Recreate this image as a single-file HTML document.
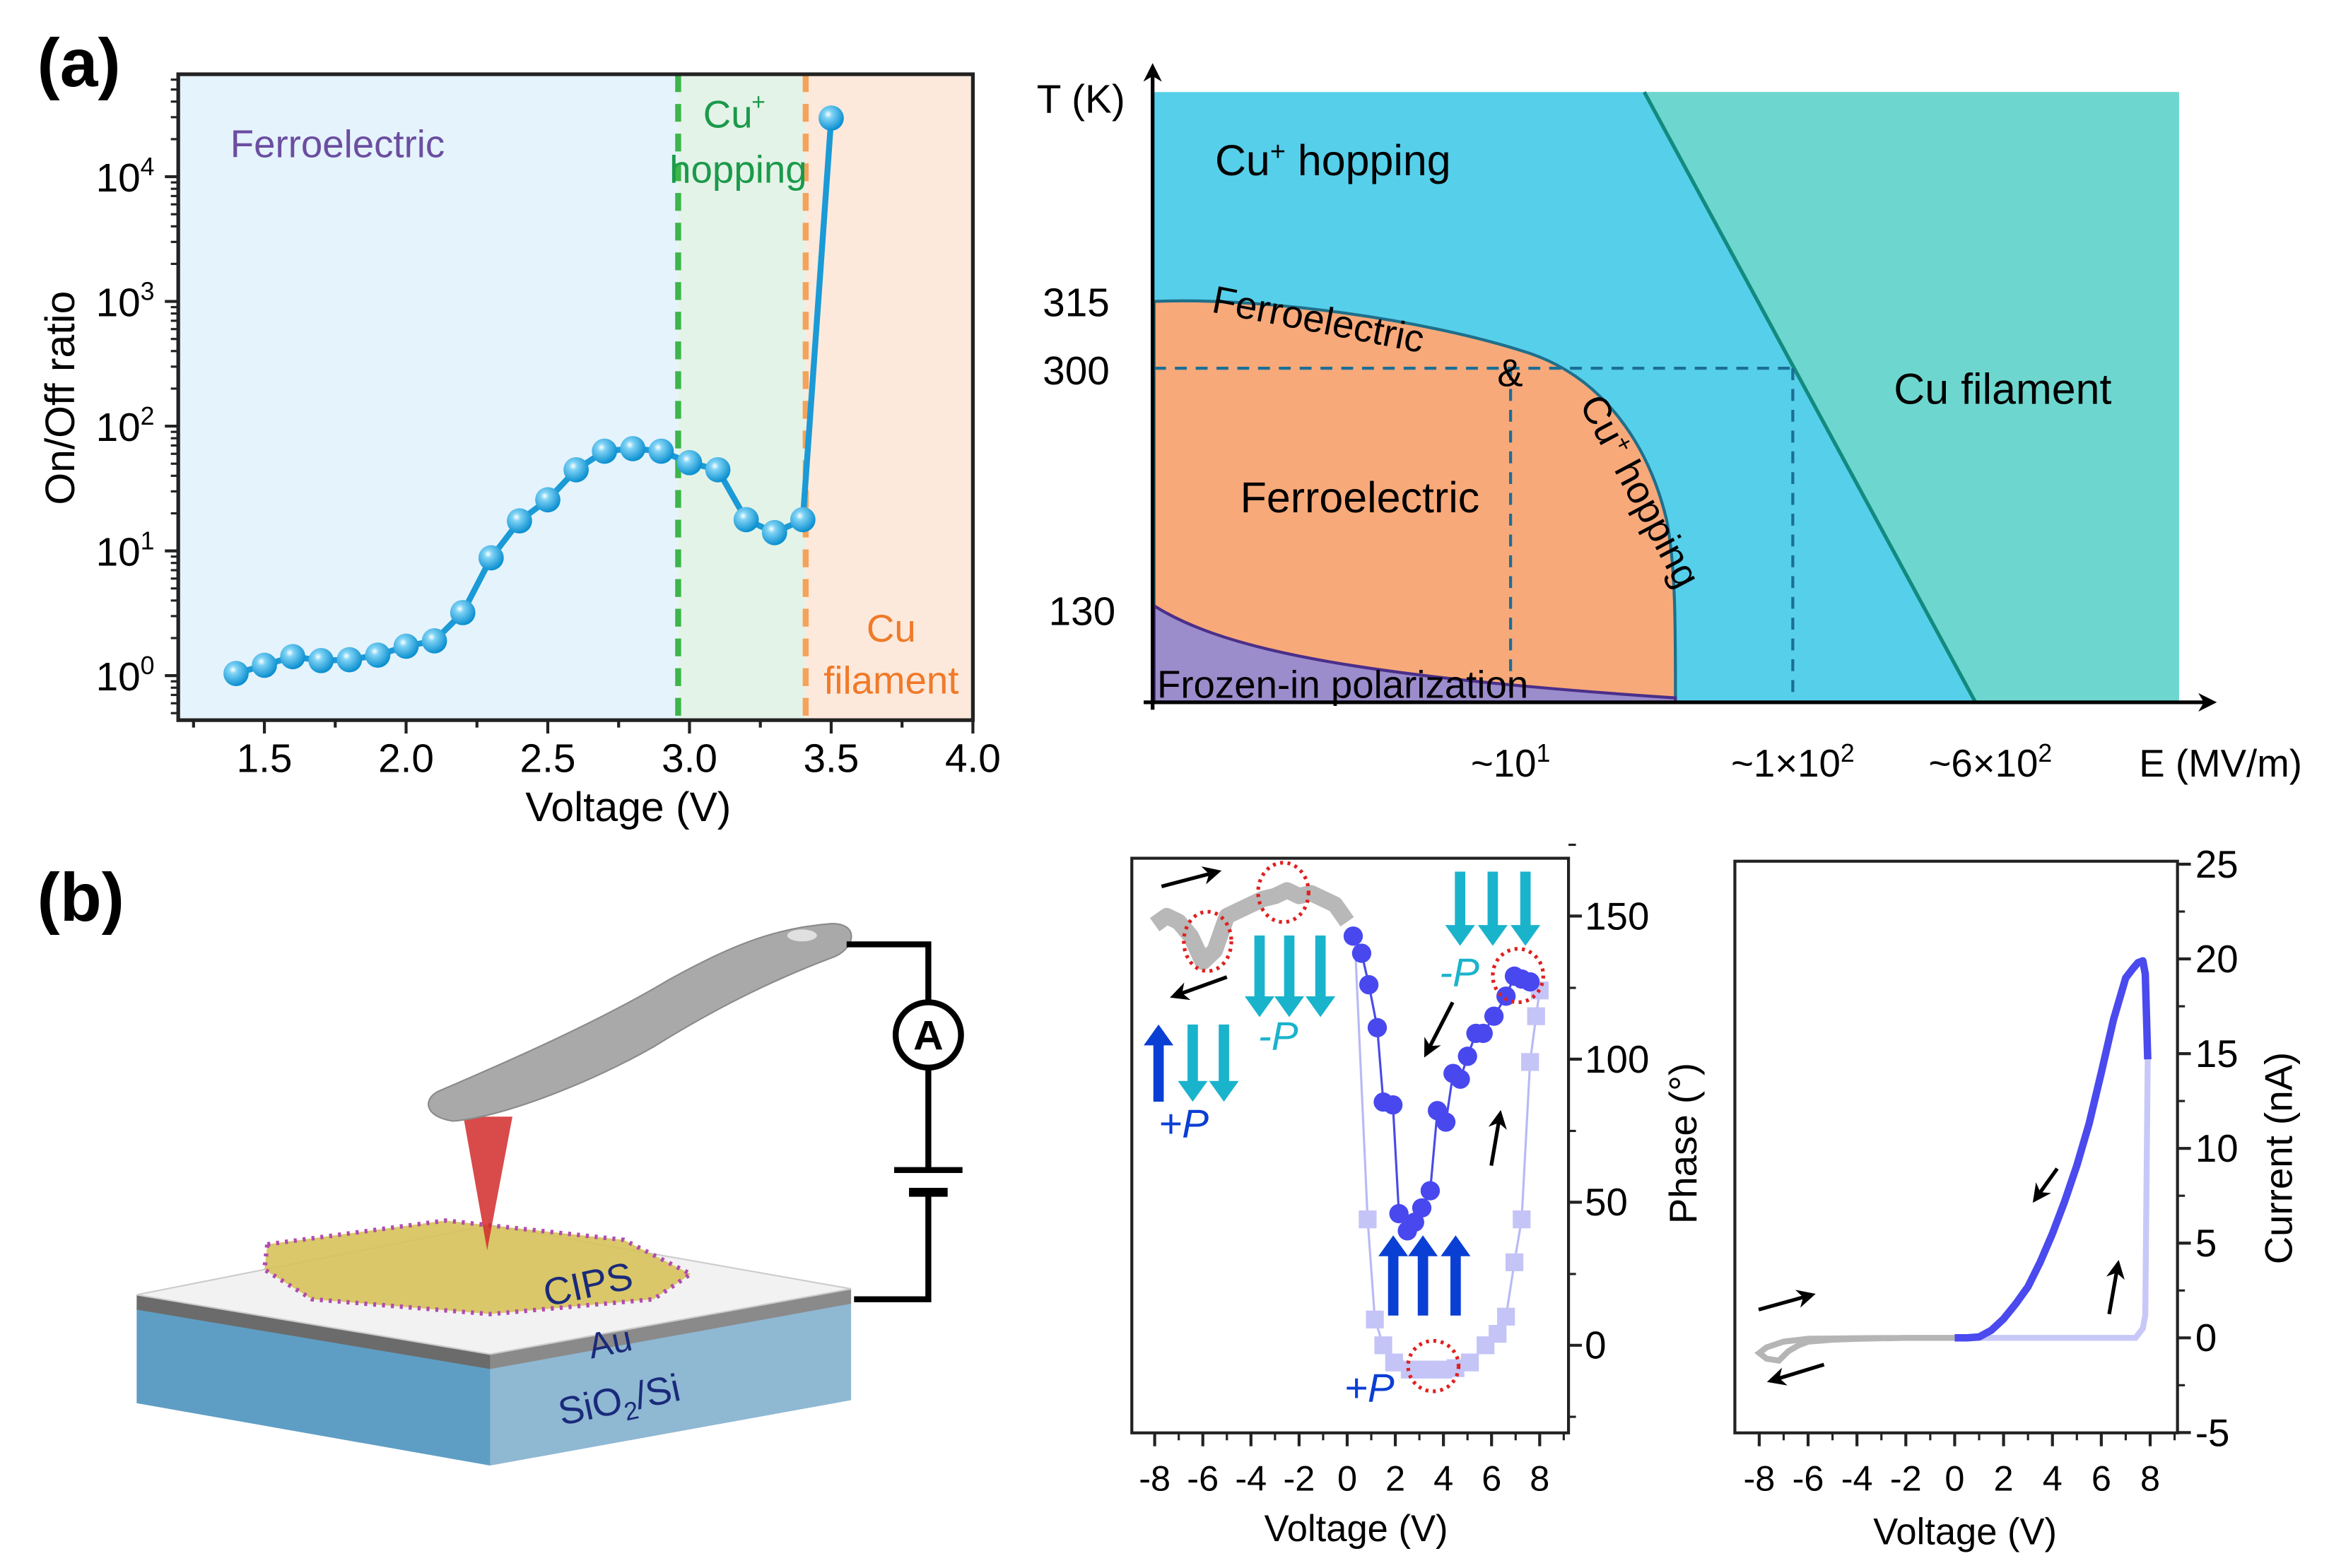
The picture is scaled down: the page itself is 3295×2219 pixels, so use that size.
<!DOCTYPE html>
<html><head><meta charset="utf-8"><style>
html,body{margin:0;padding:0;background:#fff;}
svg{display:block;font-family:"Liberation Sans",Arial,sans-serif;}
</style></head><body>
<svg id="fig" width="3295" height="2219" viewBox="0 0 1568 1056" preserveAspectRatio="none" xmlns="http://www.w3.org/2000/svg">
<defs>
<radialGradient id="ball" cx="0.38" cy="0.35" r="0.65">
<stop offset="0" stop-color="#ffffff"/><stop offset="0.25" stop-color="#7fd3f5"/><stop offset="1" stop-color="#0a8fd0"/>
</radialGradient>
<marker id="ah" viewBox="0 0 10 10" refX="8" refY="5" markerWidth="5" markerHeight="5" orient="auto"><path d="M0,0 L10,5 L0,10 L3,5z" fill="#000"/></marker>
</defs>

<text x="25" y="58" font-size="46" font-weight="bold">(a)</text>
<text x="25" y="620" font-size="46" font-weight="bold">(b)</text>

<g id="chartA"></g>

<g>
<rect x="777" y="62" width="690" height="411" fill="#56cfea"/>
<polygon points="1107,62 1467,62 1467,473 1330,473" fill="#6dd7cf"/>
<line x1="1107" y1="62" x2="1330" y2="473" stroke="#138a80" stroke-width="2.5"/>
<path d="M777,203 C850,200 960,215 1030,238 C1080,255 1110,300 1122,350 C1128,380 1128,420 1128,470 L777,470 Z" fill="#f8a97a" stroke="#1f6f8a" stroke-width="2"/>
<path d="M777,408 C820,435 900,455 1128,470 L1128,473 L777,473 Z" fill="#9b8ccc" stroke="#4a2f8a" stroke-width="2"/>
<line x1="777" y1="248" x2="1207" y2="248" stroke="#1a6f95" stroke-width="2" stroke-dasharray="8,6"/>
<line x1="1017" y1="248" x2="1017" y2="473" stroke="#1a6f95" stroke-width="2" stroke-dasharray="8,6"/>
<line x1="1207" y1="248" x2="1207" y2="473" stroke="#1a6f95" stroke-width="2" stroke-dasharray="8,6"/>
<line x1="776" y1="478" x2="776" y2="45" stroke="#000" stroke-width="2.5" marker-end="url(#ah)"/>
<line x1="770" y1="473" x2="1490" y2="473" stroke="#000" stroke-width="2.5" marker-end="url(#ah)"/>
<text x="698" y="76" font-size="27">T (K)</text>
<text x="702" y="213" font-size="27">315</text>
<text x="702" y="259" font-size="27">300</text>
<text x="706" y="421" font-size="27">130</text>
<text x="1017" y="523" font-size="26" text-anchor="middle">~10<tspan font-size="17" dy="-10">1</tspan></text>
<text x="1207" y="523" font-size="26" text-anchor="middle">~1×10<tspan font-size="17" dy="-10">2</tspan></text>
<text x="1340" y="523" font-size="26" text-anchor="middle">~6×10<tspan font-size="17" dy="-10">2</tspan></text>
<text x="1495" y="523" font-size="26" text-anchor="middle">E (MV/m)</text>
<text x="818" y="118" font-size="29">Cu<tspan font-size="18" dy="-10">+</tspan><tspan dy="10"> hopping</tspan></text>
<text x="835" y="345" font-size="29">Ferroelectric</text>
<text x="1275" y="272" font-size="29">Cu filament</text>
<text x="779" y="470" font-size="26">Frozen-in polarization</text>
<text x="0" y="0" font-size="26" transform="translate(815,210) rotate(11)">Ferroelectric</text>
<text x="1008" y="260" font-size="26">&amp;</text>
<text x="0" y="0" font-size="26" transform="translate(1063,272) rotate(62)">Cu<tspan font-size="16" dy="-9">+</tspan><tspan dy="9"> hopping</tspan></text>
</g>

<g>
<polygon points="92,880 330,920 330,987 92,945" fill="#5f9ec4"/>
<polygon points="330,920 573,876 573,943 330,987" fill="#8fb8d3"/>
<polygon points="92,872 330,912 330,922 92,882" fill="#6b6b6b"/>
<polygon points="330,912 573,868 573,878 330,922" fill="#8a8a8a"/>
<polygon points="92,872 330,825 573,868 330,912" fill="#f2f2f2" stroke="#ccc"/>
<polygon points="180,838 300,822 420,835 465,858 440,875 330,885 210,875 178,855" fill="#d6c25a" opacity="0.9"/>
<polygon points="180,838 300,822 420,835 465,858 440,875 330,885 210,875 178,855" fill="none" stroke="#b04ab0" stroke-width="3" stroke-dasharray="2,4"/>
<polygon points="312,752 345,752 328,842" fill="#d22a2a" opacity="0.85"/>
<path d="M295,735 C330,720 400,690 450,660 C490,638 520,625 560,622 C580,622 575,640 560,645 C520,660 480,680 440,705 C400,728 340,752 305,755 C285,752 285,740 295,735Z" fill="#a9a9a9" stroke="#8a8a8a"/>
<ellipse cx="540" cy="630" rx="10" ry="4" fill="#e0e0e0"/>
<polyline points="570,636 625,636 625,675" fill="none" stroke="#000" stroke-width="4"/>
<polyline points="625,719 625,788" fill="none" stroke="#000" stroke-width="4"/>
<polyline points="625,803 625,875 575,875" fill="none" stroke="#000" stroke-width="4"/>
<line x1="602" y1="788" x2="648" y2="788" stroke="#000" stroke-width="4"/>
<line x1="612" y1="803" x2="638" y2="803" stroke="#000" stroke-width="6"/>
<circle cx="625" cy="697" r="22" fill="#fff" stroke="#000" stroke-width="4"/>
<text x="625" y="707" font-size="28" font-weight="bold" text-anchor="middle">A</text>
<text x="0" y="0" font-size="26" fill="#1a2a7a" transform="translate(368,880) rotate(-12)">CIPS</text>
<text x="0" y="0" font-size="24" fill="#1a2a7a" transform="translate(398,915) rotate(-12)">Au</text>
<text x="0" y="0" font-size="26" fill="#1a2a7a" transform="translate(378,960) rotate(-12)">SiO<tspan font-size="17" dy="6">2</tspan><tspan dy="-6">/Si</tspan></text>
</g>

<g id="chartPhase"></g>
<g id="chartCurrent"></g>
</svg>

<script>
// ---------- Panel a: on/off ratio ----------
const ratioVoltages = [1.4,1.5,1.6,1.7,1.8,1.9,2.0,2.1,2.2,2.3,2.4,2.5,2.6,2.7,2.8,2.9,3.0,3.1,3.2,3.3,3.4,3.5];
const ratioValues = [1.04,1.21,1.42,1.32,1.34,1.46,1.72,1.9,3.2,8.8,17.4,25.7,44.7,63,66,63,51,44.7,17.8,14,17.8,29500];
const ratioXTicks = [1.5,2.0,2.5,3.0,3.5,4.0];
const ratioYExps = [0,1,2,3,4];
const regionBounds = [1.2,2.96,3.41,4.0];

// ---------- Panel b: phase ----------
const phaseTicks = [0,50,100,150];
const voltTicks = [-8,-6,-4,-2,0,2,4,6,8];
const grayPhaseV = [-8,-7.5,-7,-6.5,-6,-5.5,-5,-4.5,-4,-3.5,-3,-2.5,-2,-1.5,-1,-0.5,0];
const grayPhase = [147,150,148,143,134,138,150,152,154,156,157,159,157,158,156,154,148];
const bluePhaseV = [0.25,0.6,0.9,1.25,1.5,1.9,2.15,2.5,2.8,3.1,3.45,3.75,4.1,4.4,4.7,5.0,5.35,5.65,6.1,6.6,6.95,7.25,7.6];
const bluePhase = [143,137,126,111,85,84,46,40,43,48,54,82,78,95,93,101,109,109,115,122,129,128,127];
const lightPhaseV = [0.3,0.85,1.15,1.5,1.95,2.6,3.0,3.5,4.0,4.5,5.1,5.75,6.25,6.6,6.95,7.25,7.6,7.85,8.0];
const lightPhase = [145,44,9,0,-6,-8.5,-8.5,-8.5,-8.5,-8,-6,0,4,10,29,44,99,115,124];

// ---------- Panel b: current ----------
const currentTicks = [-5,0,5,10,15,20,25];
const blueCurV = [0,0.5,1,1.5,2,2.5,3,3.5,4,4.5,5,5.5,6,6.5,7,7.3,7.5,7.7,7.8,7.9];
const blueCur = [0,0,0.05,0.4,1.0,1.8,2.7,4.0,5.5,7.2,9.1,11.3,14,16.8,19,19.5,19.8,19.9,19.2,14.7];
const lightCurV = [0,2,4,6,7.4,7.7,7.8,7.9];
const lightCur = [0,0,0,0,0,0.5,1.2,14.7];
const grayCurV = [0,-2,-4,-6,-7,-7.7,-8,-7.7,-7.2,-6.8,-6.4,-6,-5,-4,-2,0];
const grayCur = [0,0,-0.02,-0.05,-0.2,-0.5,-0.8,-1.1,-1.2,-0.7,-0.4,-0.2,-0.1,-0.05,0,0];

const NS = "http://www.w3.org/2000/svg";
function mk(parent, tag, attrs, text) {
  const el = document.createElementNS(NS, tag);
  for (const k in attrs) el.setAttribute(k, attrs[k]);
  if (text !== undefined) el.textContent = text;
  parent.appendChild(el);
  return el;
}

(function(){
  const g = document.getElementById('chartA');
  const L=120,R=655,T=50,B=485;
  const xA = v => 178 + (v-1.5)*190.8;
  const yA = val => 455 - Math.log10(val)*84;
  const yE = e => 455 - e*84;
  const cols = ['#e5f3fc','#e4f3e7','#fde9dc'];
  const rn = ['ferroelectric-region','cu-hopping-region','cu-filament-region'];
  for (let i=0;i<3;i++){
    const r = mk(g,'rect',{x:xA(regionBounds[i]),y:T,width:xA(regionBounds[i+1])-xA(regionBounds[i]),height:B-T,fill:cols[i]});
    
    
  }
  const d1 = mk(g,'line',{x1:xA(regionBounds[1]),y1:T,x2:xA(regionBounds[1]),y2:B,stroke:'#3cb54a','stroke-width':4,'stroke-dasharray':'12,8'});
  
  
  const d2 = mk(g,'line',{x1:xA(regionBounds[2]),y1:T,x2:xA(regionBounds[2]),y2:B,stroke:'#f5a25a','stroke-width':4,'stroke-dasharray':'12,8'});
  
  
  const fr = mk(g,'rect',{x:L,y:T,width:R-L,height:B-T,fill:'none',stroke:'#222','stroke-width':2.5});
  
  
  ratioXTicks.forEach(v=>{
    const x=xA(v);
    mk(g,'line',{x1:x,y1:B,x2:x,y2:B+9,stroke:'#222','stroke-width':2});
    const t = mk(g,'text',{x:x,y:B+35,'font-size':27,'text-anchor':'middle'},v.toFixed(1));
    
    
    if (v < 4) mk(g,'line',{x1:xA(v+0.25),y1:B,x2:xA(v+0.25),y2:B+5,stroke:'#222','stroke-width':2});
  });
  mk(g,'line',{x1:xA(1.25),y1:B,x2:xA(1.25),y2:B+5,stroke:'#222','stroke-width':2});
  ratioYExps.forEach(e=>{
    const y=yE(e);
    mk(g,'line',{x1:L-9,y1:y,x2:L,y2:y,stroke:'#222','stroke-width':2});
    for (let m=2; m < 10; m++){ const ym = y - Math.log10(m)*84; if (ym > T) mk(g,'line',{x1:L-5,y1:ym,x2:L,y2:ym,stroke:'#222','stroke-width':1.5}); }
    const t = mk(g,'text',{x:L-16,y:y+10,'font-size':27,'text-anchor':'end'},'10');
    mk(t,'tspan',{'font-size':17,dy:-11},String(e));
    
    
  });
  for (let m=2; m < 10; m++){ const ym = yE(-1) - Math.log10(m)*84; if (ym < B) mk(g,'line',{x1:L-5,y1:ym,x2:L,y2:ym,stroke:'#222','stroke-width':1.5}); }
  const pts = ratioVoltages.map((v,i)=>[xA(v),yA(ratioValues[i])]);
  const ln = mk(g,'polyline',{points:pts.map(p=>p.join(',')).join(' '),fill:'none',stroke:'#1a9ad6','stroke-width':4});
  
  
  pts.forEach(p=>{
    const c = mk(g,'circle',{cx:p[0],cy:p[1],r:8.5,fill:'url(#ball)'});
    
    
  });
  const labs = [['Ferroelectric',155,106,'#6b4ea0','start'],['Cu',490,86,'#1a9a4a','middle'],['hopping',497,123,'#1a9a4a','middle'],['Cu',600,432,'#f07a2a','middle'],['filament',600,467,'#f07a2a','middle']];
  labs.forEach(l=>{
    const t = mk(g,'text',{x:l[1],y:l[2],fill:l[3],'font-size':26,'text-anchor':l[4]},l[0]);
    
    
  });
  mk(g,'text',{x:506,y:74,fill:'#1a9a4a','font-size':16},'+');
  const xt = mk(g,'text',{x:423,y:553,'font-size':28,'text-anchor':'middle'},'Voltage (V)');
  
  
  const yt = mk(g,'text',{x:0,y:0,'font-size':28,'text-anchor':'middle',transform:'translate(50,268) rotate(-90)'},'On/Off ratio');
  
  
})();

function arrowV(g, x, y1, y2, color, w){
  const dir = y2 > y1 ? 1 : -1;
  mk(g,'line',{x1:x,y1:y1,x2:x,y2:y2-dir*12,stroke:color,'stroke-width':w});
  mk(g,'polygon',{points:(x-10)+','+(y2-dir*14)+' '+(x+10)+','+(y2-dir*14)+' '+x+','+y2,fill:color});
}
function blackArrow(g,x1,y1,x2,y2){
  const a = mk(g,'line',{x1:x1,y1:y1,x2:x2,y2:y2,stroke:'#000','stroke-width':2.5,'marker-end':'url(#ah)'});
  
  
}

(function(){
  const g = document.getElementById('chartPhase');
  const L=762,R=1056,T=578,B=965;
  const xP = v => 907 + v*16.2;
  const yP = p => 906 - p*1.927;
  const fr = mk(g,'rect',{x:L,y:T,width:R-L,height:B-T,fill:'none',stroke:'#222','stroke-width':2});
  
  
  voltTicks.forEach(v=>{
    const x=xP(v);
    mk(g,'line',{x1:x,y1:B,x2:x,y2:B+9,stroke:'#222','stroke-width':2});
    mk(g,'line',{x1:x+16.2,y1:B,x2:x+16.2,y2:B+5,stroke:'#222','stroke-width':1.5});
    const t = mk(g,'text',{x:x,y:B+39,'font-size':24,'text-anchor':'middle'},String(v));
    
    
  });
  phaseTicks.forEach(p=>{
    const y=yP(p);
    mk(g,'line',{x1:R,y1:y,x2:R+9,y2:y,stroke:'#222','stroke-width':2});
    mk(g,'line',{x1:R,y1:y-48,x2:R+5,y2:y-48,stroke:'#222','stroke-width':1.5});
    const t = mk(g,'text',{x:R+11,y:y+9,'font-size':26},String(p));
    
    
  });
  mk(g,'line',{x1:R,y1:yP(-25),x2:R+5,y2:yP(-25),stroke:'#222','stroke-width':1.5});
  const gp = grayPhaseV.map((v,i)=>xP(v)+','+yP(grayPhase[i])).join(' ');
  const gl = mk(g,'polyline',{points:gp,fill:'none',stroke:'#b8b8b8','stroke-width':11,'stroke-linejoin':'round'});
  
  
  const lp = lightPhaseV.map((v,i)=>[xP(v),yP(lightPhase[i])]);
  const ll = mk(g,'polyline',{points:lp.map(p=>p.join(',')).join(' '),fill:'none',stroke:'#b9b9f5','stroke-width':1.5});
  
  
  lp.forEach((p,i)=>{ if(i > 0){
    const s = mk(g,'rect',{x:p[0]-6,y:p[1]-6,width:12,height:12,fill:'#c4c4f7'});
    
    
  }});
  const bp = bluePhaseV.map((v,i)=>[xP(v),yP(bluePhase[i])]);
  const bl = mk(g,'polyline',{points:bp.map(p=>p.join(',')).join(' '),fill:'none',stroke:'#4a4ae8','stroke-width':1.5});
  
  
  bp.forEach(p=>{
    const c = mk(g,'circle',{cx:p[0],cy:p[1],r:6.5,fill:'#4848ee'});
    
    
  });
  const cy='#1ab3cc', bu='#0a3fd4';
  [983,1005,1027].forEach(x=>arrowV(g,x,587,637,cy,7));
  [848,868,889].forEach(x=>arrowV(g,x,630,685,cy,7));
  arrowV(g,780,742,690,bu,7); [803,824].forEach(x=>arrowV(g,x,690,742,cy,7));
  [938,958,980].forEach(x=>arrowV(g,x,886,832,bu,7));
  [['-P',847,707,cy],['+P',780,766,bu],['-P',969,664,cy],['+P',905,944,bu]].forEach(l=>{
    const t = mk(g,'text',{x:l[1],y:l[2],fill:l[3],'font-size':27,'font-style':'italic'},l[0]);
    
    
  });
  [[813,634,16,20],[864,601,17,20],[1022,657,17,18],[965,920,17,17]].forEach(c=>{
    const e = mk(g,'ellipse',{cx:c[0],cy:c[1],rx:c[2],ry:c[3],fill:'none',stroke:'#e02020','stroke-width':2.5,'stroke-dasharray':'2,3'});
    
    
  });
  blackArrow(g,782,597,820,587); blackArrow(g,826,658,790,671);
  blackArrow(g,978,675,960,710); blackArrow(g,1004,785,1010,750);
  const xt = mk(g,'text',{x:913,y:1038,'font-size':25,'text-anchor':'middle'},'Voltage (V)');
  
  
  const yt = mk(g,'text',{x:0,y:0,'font-size':26,'text-anchor':'middle',transform:'translate(1142,770) rotate(-90)'},'Phase (°)');
  
  
})();

(function(){
  const g = document.getElementById('chartCurrent');
  const L=1168,R=1466,T=580,B=965;
  const xC = v => 1316 + v*16.45;
  const yC = i => 901 - i*12.76;
  const fr = mk(g,'rect',{x:L,y:T,width:R-L,height:B-T,fill:'none',stroke:'#222','stroke-width':2});
  
  
  voltTicks.forEach(v=>{
    const x=xC(v);
    mk(g,'line',{x1:x,y1:B,x2:x,y2:B+9,stroke:'#222','stroke-width':2});
    mk(g,'line',{x1:x+16.45,y1:B,x2:x+16.45,y2:B+5,stroke:'#222','stroke-width':1.5});
    const t = mk(g,'text',{x:x,y:B+39,'font-size':24,'text-anchor':'middle'},String(v));
    
    
  });
  currentTicks.forEach(c=>{
    const y=yC(c);
    mk(g,'line',{x1:R,y1:y,x2:R+9,y2:y,stroke:'#222','stroke-width':2});
    if (c < 25) mk(g,'line',{x1:R,y1:yC(c+2.5),x2:R+5,y2:yC(c+2.5),stroke:'#222','stroke-width':1.5});
    const t = mk(g,'text',{x:R+12,y:y+9,'font-size':26},String(c));
    
    
  });
  const gl = mk(g,'polyline',{points:grayCurV.map((v,i)=>xC(v)+','+yC(grayCur[i])).join(' '),fill:'none',stroke:'#b5b5b5','stroke-width':4});
  
  
  const ll = mk(g,'polyline',{points:lightCurV.map((v,i)=>xC(v)+','+yC(lightCur[i])).join(' '),fill:'none',stroke:'#c8c8f8','stroke-width':4});
  
  
  const bl = mk(g,'polyline',{points:blueCurV.map((v,i)=>xC(v)+','+yC(blueCur[i])).join(' '),fill:'none',stroke:'#4a4aee','stroke-width':5,'stroke-linejoin':'round'});
  
  
  blackArrow(g,1184,882,1220,872); blackArrow(g,1228,919,1192,930);
  blackArrow(g,1385,787,1370,808); blackArrow(g,1420,885,1426,851);
  const xt = mk(g,'text',{x:1323,y:1040,'font-size':25,'text-anchor':'middle'},'Voltage (V)');
  
  
  const yt = mk(g,'text',{x:0,y:0,'font-size':26,'text-anchor':'middle',transform:'translate(1543,780) rotate(-90)'},'Current (nA)');
  
  
})();
</script>
</body></html>
